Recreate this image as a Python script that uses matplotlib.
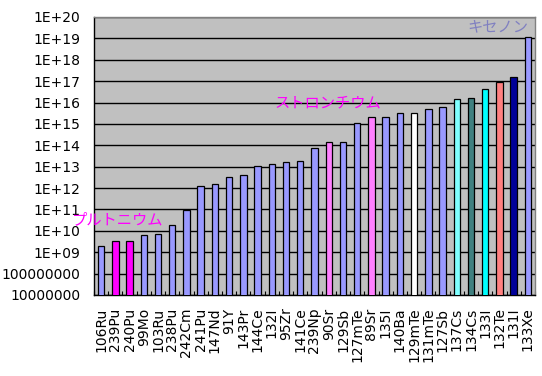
import matplotlib
matplotlib.use("Agg")
import matplotlib.pyplot as plt
from matplotlib.ticker import FixedLocator, NullLocator, FuncFormatter
import numpy as np

# nuclides, sorted by released amount
nuclides = ["106Ru", "239Pu", "240Pu", "99Mo", "103Ru", "238Pu", "242Cm",
            "241Pu", "147Nd", "91Y", "143Pr", "144Ce", "132I", "95Zr",
            "141Ce", "239Np", "90Sr", "129Sb", "127mTe", "89Sr", "135I",
            "140Ba", "129mTe", "131mTe", "127Sb", "137Cs", "134Cs", "133I",
            "132Te", "131I", "133Xe"]
amounts = [2.0e9, 3.2e9, 3.2e9, 6.2e9, 6.9e9, 1.8e10, 9.8e10,
           1.2e12, 1.5e12, 3.2e12, 3.9e12, 1.07e13, 1.3e13, 1.6e13,
           1.8e13, 7.2e13, 1.4e14, 1.4e14, 1.05e15, 2.0e15, 2.2e15,
           3.1e15, 3.1e15, 4.8e15, 5.9e15, 1.4e16, 1.7e16, 4.1e16,
           8.9e16, 1.5e17, 1.1e19]
highlight = {"239Pu": "#FF00FF", "240Pu": "#FF00FF",
             "90Sr": "#FF80FF", "89Sr": "#FF80FF",
             "129mTe": "#FFFFFF", "137Cs": "#80FFFF", "134Cs": "#408080",
             "133I": "#00FFFF", "132Te": "#FF8080", "131I": "#000099"}
colors = [highlight.get(n, "#9999FF") for n in nuclides]

fig = plt.figure(figsize=(5.42, 3.76), dpi=100)
fig.subplots_adjust(left=94/542, right=535/542, top=1-17/376, bottom=1-295/376)
ax = fig.add_subplot(111)
ax.set_facecolor("#C0C0C0")

x = np.arange(len(nuclides))
ax.bar(x, amounts, width=0.45, color=colors, edgecolor="black",
       linewidth=0.9, zorder=3)

ax.set_yscale("log")
ax.set_ylim(1e7, 1e20)
ax.set_xlim(-0.5, len(nuclides) - 0.5)

def fmt(v, pos):
    e = int(round(np.log10(v)))
    if e < 9:
        return str(10 ** e)
    return "1E+%02d" % e

ax.yaxis.set_major_locator(FixedLocator([10.0 ** e for e in range(7, 21)]))
ax.yaxis.set_minor_locator(NullLocator())
ax.yaxis.set_major_formatter(FuncFormatter(fmt))
ax.yaxis.grid(True, color="black", linewidth=1.0, zorder=1)
ax.set_axisbelow(True)
ax.tick_params(axis="y", length=0, pad=10, labelsize=10)

ax.set_xticks(x)
ax.set_xticklabels(nuclides, rotation=90, fontsize=10)
ax.tick_params(axis="x", which="major", length=0, pad=9)
ax.xaxis.set_minor_locator(FixedLocator(np.arange(-0.5, len(nuclides), 1)))
ax.tick_params(axis="x", which="minor", direction="in", length=3, width=0.8)

for s in ["left", "bottom"]:
    ax.spines[s].set_color("black")
    ax.spines[s].set_linewidth(1.0)
for s in ["top", "right"]:
    ax.spines[s].set_color("#808080")
    ax.spines[s].set_linewidth(1.0)

jp = ["Noto Sans CJK JP", "DejaVu Sans"]
ax.text(-0.05, 0.27, "プルトニウム", transform=ax.transAxes, color="#FF00FF",
        fontsize=11, family=jp, va="center", ha="left", zorder=5, clip_on=False)
ax.text(0.41, 0.69, "ストロンチウム", transform=ax.transAxes, color="#FF00FF",
        fontsize=11, family=jp, va="center", ha="left", zorder=5)
ax.text(0.984, 0.964, "キセノン", transform=ax.transAxes, color="#8080C0",
        fontsize=11, family=jp, va="center", ha="right", zorder=5)

fig.savefig("out.png", dpi=100)
